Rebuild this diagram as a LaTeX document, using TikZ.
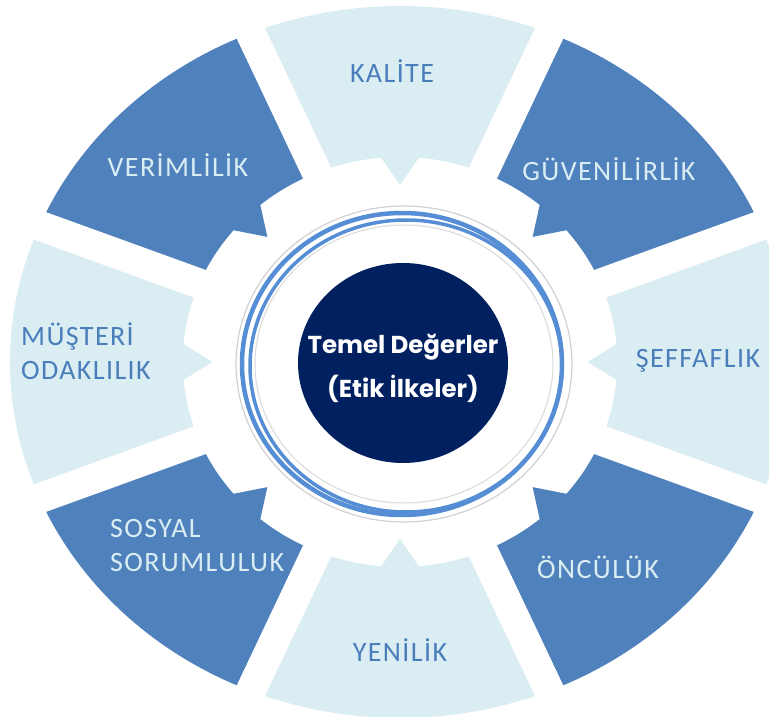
\documentclass[tikz,border=0pt]{standalone}
\usepackage{fontspec}
\setmainfont{Carlito}
\newfontfamily\segfont{Carlito}[LetterSpace=5]
\newfontfamily\ctrfont{Poppins}
\usetikzlibrary{calc}
\definecolor{segLight}{HTML}{DAEDF3}
\definecolor{segDark}{HTML}{4F81BD}
\definecolor{txtOnLight}{HTML}{4A7EBB}
\definecolor{txtOnDark}{HTML}{DAEDF3}
\definecolor{navyfill}{HTML}{002060}
\definecolor{ringblue}{HTML}{558ED5}
\tikzset{
  seglight/.style={fill=segLight},
  segdark/.style={fill=segDark},
  gapband/.style={draw=white, line width=30pt},
  lbllight/.style={text=txtOnLight, font=\segfont\fontsize{28}{34}\selectfont, inner sep=0pt},
  lbldark/.style={text=txtOnDark, font=\segfont\fontsize{28}{34}\selectfont, inner sep=0pt},
  ctrtext/.style={text=white, font=\ctrfont\bfseries\fontsize{24.5}{44}\selectfont, align=center, inner sep=0pt},
}
\begin{document}
\begin{tikzpicture}[x=1pt,y=1pt]
\useasboundingbox (0,0) rectangle (769,716);
% segments
\begin{scope}[shift={(400,354)}, xscale=1.06]
  \foreach \m/\st in {90/seglight,45/segdark,0/seglight,-45/segdark,-90/seglight,-135/segdark,180/seglight,135/segdark}{
    \path[\st] (\m-22.5:205) -- (\m-22.5:368 and 356)
      arc[start angle=\m-22.5, end angle=\m+22.5, x radius=368, y radius=356]
      -- (\m+22.5:205) arc[start angle=\m+22.5, end angle=\m+5, radius=205]
      -- (\m:177) -- (\m-5:205) arc[start angle=\m-5, end angle=\m-22.5, radius=205] -- cycle;
  }
  \foreach \b in {22.5,67.5,112.5,157.5,202.5,247.5,292.5,337.5}{
    \path[gapband] ($(\b:205)!-0.4!(\b:368 and 356)$) -- ($(\b:205)!1.4!(\b:368 and 356)$);
  }
\end{scope}
% central ring
\fill[white] (404,352) ellipse[x radius=169, y radius=159];
\draw[black!18, line width=1.2pt] (404,352) ellipse[x radius=168, y radius=158];
\draw[ringblue, line width=4.5pt] (402,352) ellipse[x radius=160, y radius=151];
\draw[ringblue, line width=3.5pt] (406,350) ellipse[x radius=156, y radius=146];
\draw[black!15, line width=1pt] (404,352) ellipse[x radius=149, y radius=139];
\fill[navyfill] (403,353) ellipse[x radius=105, y radius=100];
% labels
\node[ctrtext] (ctr) at (403,348) {Temel Değerler\\(Etik İlkeler)};
\node[lbllight] (kal) at (392,645) {KALİTE};
\node[lbldark] (guv) at (609,547) {GÜVENİLİRLİK};
\node[lbllight] (sef) at (698,355) {ŞEFFAFLIK};
\node[lbldark] (onc) at (598,149) {ÖNCÜLÜK};
\node[lbllight] (yen) at (400,66) {YENİLİK};
\node[lbldark, align=left, anchor=west] (sos) at (110,170) {SOSYAL\\SORUMLULUK};
\node[lbldark] (ver) at (178,551) {VERİMLİLİK};
\node[lbllight, align=left, anchor=west] (mus) at (21,365) {MÜŞTERİ\\ODAKLILIK};
\end{tikzpicture}
\end{document}
